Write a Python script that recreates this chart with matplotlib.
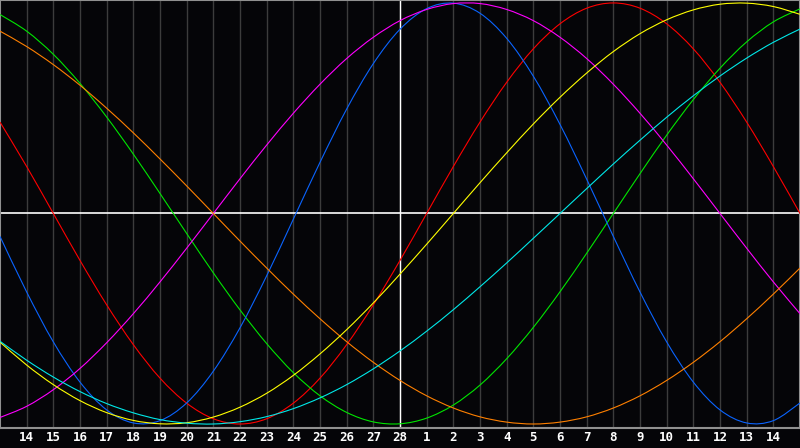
import matplotlib
matplotlib.use("Agg")
import matplotlib.pyplot as plt
from matplotlib.path import Path
from matplotlib.patches import PathPatch

# day labels along the bottom (14th of last month .. 14th of this month)
days = [14, 15, 16, 17, 18, 19, 20, 21, 22, 23, 24, 25, 26, 27, 28,
        1, 2, 3, 4, 5, 6, 7, 8, 9, 10, 11, 12, 13, 14]

# curve values in percent, one per day column (first and last are off the labelled range)
blue = [-10.9, -37.3, -61.0, -80.1, -93.3, -99.5, -98.4, -90.0, -74.9, -54.3, -29.6,
        -2.7, 24.3, 49.6, 71.2, 87.5, 97.3, 99.9, 95.1, 83.2, 65.2, 42.3, 16.3,
        -10.9, -37.3, -61.0, -80.1, -93.3, -99.5, -98.4, -90.0]
red = [43.4, 22.3, 0, -22.3, -43.4, -62.3, -78.2, -90.1, -97.5, -100, -97.5, -90.1,
       -78.2, -62.3, -43.4, -22.3, 0, 22.3, 43.4, 62.3, 78.2, 90.1, 97.5, 100, 97.5,
       90.1, 78.2, 62.3, 43.4, 22.3, 0]
green = [94.5, 86.6, 75.6, 61.8, 45.8, 28.2, 9.5, -9.5, -28.2, -45.8, -61.8, -75.6,
         -86.6, -94.5, -99.0, -99.9, -97.2, -91.0, -81.5, -69.0, -54.1, -37.2, -18.9,
         0, 18.9, 37.2, 54.1, 69.0, 81.5, 91.0, 97.2]
magenta = [-96.9, -91.6, -83.7, -73.6, -61.4, -47.6, -32.5, -16.5, 0, 16.5, 32.5, 47.6,
           61.4, 73.6, 83.7, 91.6, 96.9, 99.7, 99.7, 96.9, 91.6, 83.7, 73.6, 61.4, 47.6,
           32.5, 16.5, 0, -16.5, -32.5, -47.6]
orange = [86.6, 79.3, 70.7, 60.9, 50.0, 38.3, 25.9, 13.1, 0, -13.1, -25.9, -38.3, -50.0,
          -60.9, -70.7, -79.3, -86.6, -92.4, -96.6, -99.1, -100, -99.1, -96.6, -92.4,
          -86.6, -79.3, -70.7, -60.9, -50.0, -38.3, -25.9]
yellow = [-61.1, -72.0, -81.3, -88.9, -94.6, -98.3, -99.9, -99.4, -96.7, -92.0, -85.4,
          -76.9, -66.7, -55.2, -42.5, -28.8, -14.6, 0, 14.6, 28.8, 42.5, 55.2, 66.7,
          76.9, 85.4, 92.0, 96.7, 99.4, 99.9, 98.3, 94.6]
cyan = [-60.7, -69.7, -77.7, -84.6, -90.3, -94.7, -97.9, -99.6, -100.0, -98.9, -96.5,
        -92.7, -87.6, -81.3, -73.8, -65.3, -55.9, -45.7, -34.8, -23.5, -11.8, 0, 11.8,
        23.5, 34.8, 45.7, 55.9, 65.3, 73.8, 81.3, 87.6]

xs = list(range(-1, len(days) + 1))


def smooth_path(x, y):
    # catmull-rom style bezier through the daily points
    n = len(x)
    verts = [(x[0], y[0])]
    codes = [Path.MOVETO]
    for i in range(n - 1):
        a = max(i - 1, 0)
        b = min(i + 2, n - 1)
        c1 = (x[i] + (x[i + 1] - x[a]) / 6, y[i] + (y[i + 1] - y[a]) / 6)
        c2 = (x[i + 1] - (x[b] - x[i]) / 6, y[i + 1] - (y[b] - y[i]) / 6)
        verts += [c1, c2, (x[i + 1], y[i + 1])]
        codes += [Path.CURVE4] * 3
    return Path(verts, codes)


bg = "#050508"
fig = plt.figure(figsize=(8, 4.48), dpi=100, facecolor=bg)
ax = fig.add_axes([0, 20 / 448, 1, 428 / 448])
ax.set_facecolor(bg)

for i in range(len(days)):
    ax.axvline(i, color="#3c3c3c", lw=1.0, zorder=1)
ax.axvline(14, color="white", lw=1.0, zorder=2)
ax.axhline(0, color="white", lw=1.2, zorder=2)

series = [(red, "#ff0000"), (green, "#00e600"), (blue, "#0a64ff"),
          (magenta, "#ff00ff"), (orange, "#ff8000"), (yellow, "#ffff00"),
          (cyan, "#00e8e8")]
for vals, col in series:
    ax.add_patch(PathPatch(smooth_path(xs, vals), fill=False, edgecolor=col,
                           lw=0.8, zorder=3))

ax.set_xlim(-1, 29)
ax.set_ylim(-101.9, 101.4)
ax.set_yticks([])
ax.set_xticks(range(len(days)))
ax.set_xticklabels([str(d) for d in days], color="white", fontsize=9,
                   fontweight="bold", family="DejaVu Sans Mono")
ax.tick_params(axis="x", length=0, pad=2)
for s in ax.spines.values():
    s.set_color("#909090")
    s.set_linewidth(1.5)

fig.savefig("out.png", dpi=100, facecolor=bg)
